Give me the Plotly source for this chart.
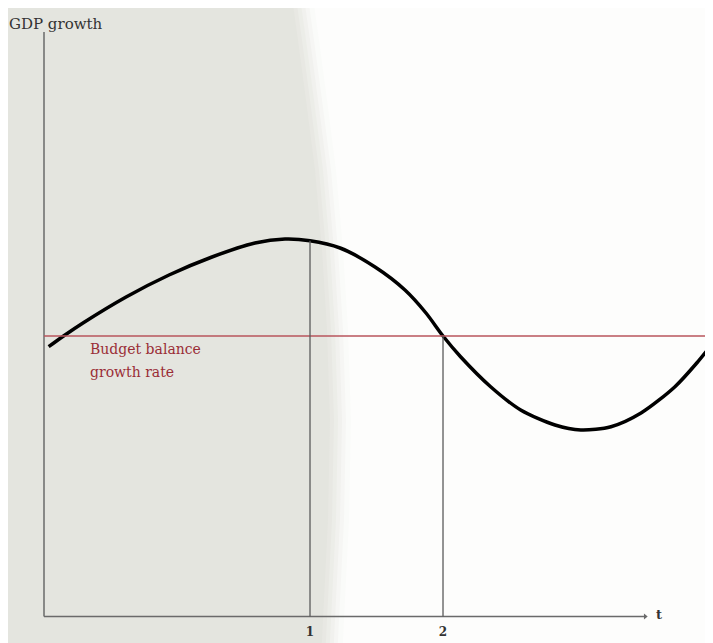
import plotly.graph_objects as go

# ---- data (t units, GDP growth units; budget balance growth rate = 0) ----
t_vals = [-0.965, -0.853, -0.707, -0.383, -0.060, 0.263, 0.586, 0.812, 1.0, 1.226,
          1.489, 1.714, 1.872, 2.0, 2.132, 2.358, 2.584, 2.842, 3.036, 3.263,
          3.489, 3.744, 3.908, 4.030]
gdp_vals = [-0.107, 0.0, 0.13, 0.39, 0.61, 0.79, 0.93, 0.97, 0.953, 0.88,
            0.69, 0.46, 0.23, 0.0, -0.207, -0.507, -0.74, -0.89, -0.94, -0.907,
            -0.77, -0.507, -0.27, -0.07]
budget_rate = 0.0
marker_t = [1, 2]
marker_gdp = [0.953, 0.0]
tick_vals = [1, 2]
tick_text = ["1", "2"]

# page places the figure 8px in from the top-left corner
W, H = 705, 635
MB = 23
PLOT_H = H - MB          # 612
OFF = 8

X_MIN, X_MAX = -1.2707, 4.030
Y_MIN, Y_MAX = -2.84, 3.28
AX_X0 = -1.0
AX_Y0 = -2.805
AX_X1 = 3.52
AX_Y1 = 3.04

fig = go.Figure()

# soft grey background region on the left, in paper coords
boundary = [(297, -10), (304, 40), (312, 100), (321, 170), (328, 250), (333, 330),
            (336, 420), (334, 520), (330, 600), (327, 660)]
grey = (228, 229, 223)
white = (253, 253, 252)
layers = [(15, 0.10), (10, 0.28), (6, 0.48), (2, 0.68), (-2, 0.86), (-6, 1.0)]
shapes = []
for dx, f in layers:
    col = tuple(int(round(white[i] + (grey[i] - white[i]) * f)) for i in range(3))
    pts = []
    for (px, py) in boundary:
        xp = (px + dx - OFF) / W
        yp = (PLOT_H + OFF - py) / PLOT_H
        pts.append(f"{xp:.4f},{yp:.4f}")
    path = f"M -0.05,{(PLOT_H + OFF + 10) / PLOT_H:.4f} L " + " L ".join(pts) + \
           f" L -0.05,{(PLOT_H + OFF - 660) / PLOT_H:.4f} Z"
    shapes.append(dict(type="path", xref="paper", yref="paper", path=path,
                       fillcolor=f"rgb{col}", line=dict(width=0), layer="below"))

# axes as lines
shapes.append(dict(type="line", xref="x", yref="y", x0=AX_X0, x1=AX_X1, y0=AX_Y0, y1=AX_Y0,
                   line=dict(color="#6a6a6a", width=1.5)))
shapes.append(dict(type="line", xref="x", yref="y", x0=AX_X0, x1=AX_X0, y0=AX_Y0, y1=AX_Y1,
                   line=dict(color="#6a6a6a", width=1.5)))
# budget balance growth rate line
shapes.append(dict(type="line", xref="x", yref="y", x0=AX_X0, x1=X_MAX, y0=budget_rate, y1=budget_rate,
                   line=dict(color="#b8555c", width=1.5)))
# vertical marker lines
for tv, gv in zip(marker_t, marker_gdp):
    shapes.append(dict(type="line", xref="x", yref="y", x0=tv, x1=tv, y0=AX_Y0, y1=gv,
                       line=dict(color="#5a5a5a", width=1.3)))

fig.add_trace(go.Scatter(x=t_vals, y=gdp_vals, mode="lines",
                         line=dict(color="black", width=3.5, shape="spline", smoothing=0.8),
                         hoverinfo="skip", showlegend=False))
# small arrow head at x-axis end
fig.add_trace(go.Scatter(x=[AX_X1], y=[AX_Y0], mode="markers",
                         marker=dict(symbol="triangle-right", size=5, color="#6a6a6a"),
                         hoverinfo="skip", showlegend=False))

annotations = [
    dict(x=-0.91, y=3.12, xref="x", yref="y", text="GDP growth", showarrow=False,
         xanchor="center", yanchor="middle",
         font=dict(family="DejaVu Serif", size=15, color="#333333")),
    dict(x=3.624, y=-2.78, xref="x", yref="y", text="<b>t</b>", showarrow=False,
         xanchor="center", yanchor="middle",
         font=dict(family="DejaVu Serif", size=13, color="#333333")),
    dict(x=-0.669, y=-0.13, xref="x", yref="y", text="Budget balance", showarrow=False,
         xanchor="left", yanchor="middle",
         font=dict(family="DejaVu Serif", size=14, color="#9a2d36")),
    dict(x=-0.669, y=-0.36, xref="x", yref="y", text="growth rate", showarrow=False,
         xanchor="left", yanchor="middle",
         font=dict(family="DejaVu Serif", size=14, color="#9a2d36")),
]

fig.update_layout(
    width=W, height=H,
    margin=dict(l=0, r=0, t=0, b=MB, pad=0),
    paper_bgcolor="rgb(253,253,252)",
    plot_bgcolor="rgba(0,0,0,0)",
    shapes=shapes,
    annotations=annotations,
    showlegend=False,
    xaxis=dict(range=[X_MIN, X_MAX], showgrid=False, zeroline=False, showline=False,
               tickvals=tick_vals, ticktext=[f"<b>{s}</b>" for s in tick_text],
               ticks="", ticklabelstandoff=3,
               tickfont=dict(family="DejaVu Serif", size=12, color="#333333"),
               fixedrange=True),
    yaxis=dict(range=[Y_MIN, Y_MAX], showgrid=False, zeroline=False, showline=False,
               showticklabels=False, ticks="", fixedrange=True),
)

fig.write_html("out.html")
